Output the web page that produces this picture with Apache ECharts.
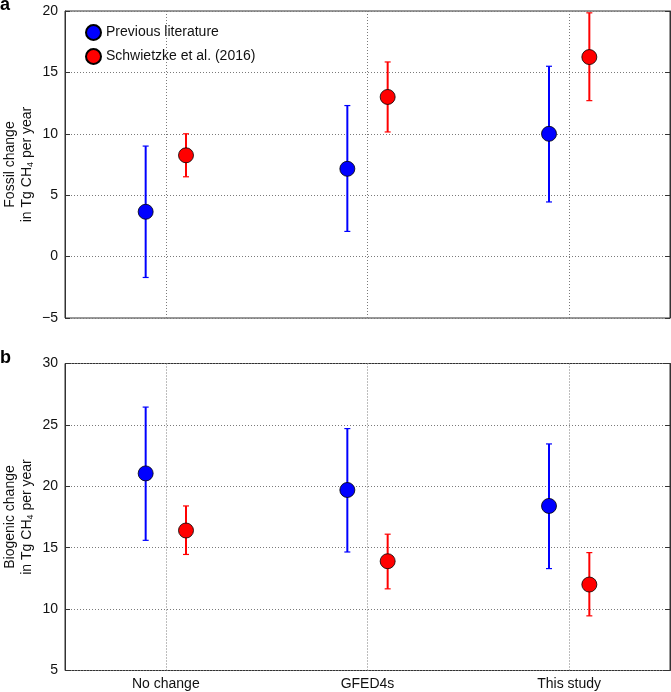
<!DOCTYPE html>
<html>
<head>
<meta charset="utf-8">
<script src="https://cdn.jsdelivr.net/npm/echarts@6/dist/echarts.min.js"></script>
<style>
html,body{margin:0;padding:0;background:#fff;}
#c{width:671px;height:692px;}
</style>
</head>
<body>
<div id="c"></div>
<script>
// ---- data ----
const categories = ['No change', 'GFED4s', 'This study'];
const seriesNames = ['Previous literature', 'Schwietzke et al. (2016)'];
const yTitles = ['Fossil change\nin Tg CH{sub|4} per year', 'Biogenic change\nin Tg CH{sub|4} per year'];
const panelLetters = ['a', 'b'];

const fossilPrevMean = [3.65, 7.15, 10.0];
const fossilPrevLow  = [-1.7, 2.05, 4.45];
const fossilPrevHigh = [9.0, 12.3, 15.5];
const fossilSchwMean = [8.25, 13.0, 16.25];
const fossilSchwLow  = [6.5, 10.15, 12.7];
const fossilSchwHigh = [10.0, 15.85, 19.85];

const bioPrevMean = [21.05, 19.7, 18.4];
const bioPrevLow  = [15.6, 14.65, 13.3];
const bioPrevHigh = [26.45, 24.7, 23.45];
const bioSchwMean = [16.4, 13.9, 12.0];
const bioSchwLow  = [14.45, 11.65, 9.45];
const bioSchwHigh = [18.4, 16.1, 14.6];

const fossilTicks = {min: -5, max: 20, interval: 5};
const bioTicks = {min: 5, max: 30, interval: 5};

// ---- style ----
const FONT = 'Helvetica, Arial, "Liberation Sans", sans-serif';
const BLUE = '#0000ff';
const RED = '#ff0000';
const GRIDC = '#7a7a7a';
const FRAME = '#333';
const OFF = 0.1;

const chart = echarts.init(document.getElementById('c'));

function errSeries(g, means, lows, highs, offset, color) {
  return {
    type: 'custom',
    xAxisIndex: 2 * g, yAxisIndex: 2 * g,
    silent: true, z: 2,
    data: means.map((m, i) => [i + 1 + offset, lows[i], highs[i]]),
    encode: {x: 0, y: [1, 2]},
    renderItem: function (params, api) {
      const x = api.value(0);
      const lo = api.coord([x, api.value(1)]);
      const hi = api.coord([x, api.value(2)]);
      const w = 3;
      return {
        type: 'group',
        children: [
          {type: 'line', shape: {x1: lo[0], y1: lo[1], x2: hi[0], y2: hi[1]}, style: {stroke: color, lineWidth: 2}},
          {type: 'line', shape: {x1: lo[0] - w, y1: lo[1], x2: lo[0] + w, y2: lo[1]}, style: {stroke: color, lineWidth: 1.2}},
          {type: 'line', shape: {x1: hi[0] - w, y1: hi[1], x2: hi[0] + w, y2: hi[1]}, style: {stroke: color, lineWidth: 1.2}}
        ]
      };
    }
  };
}

function pointSeries(g, name, means, offset, color) {
  return {
    type: 'scatter', name: name,
    xAxisIndex: 2 * g, yAxisIndex: 2 * g,
    symbol: 'circle', symbolSize: 15, z: 3,
    itemStyle: {color: color, borderColor: '#000', borderWidth: 0.8, opacity: 1},
    data: means.map((m, i) => [i + 1 + offset, m])
  };
}

function gridLineSeries(g) {
  return {
    type: 'scatter', xAxisIndex: 2 * g, yAxisIndex: 2 * g, data: [], z: 1, silent: true,
    markLine: {
      silent: true, symbol: ['none', 'none'], label: {show: false},
      lineStyle: {type: [1, 2], color: GRIDC, width: 1},
      data: categories.map((c, i) => ({xAxis: i + 1}))
    }
  };
}

const gridBoxes = [
  {left: 65, top: 11, width: 605, height: 307},
  {left: 65, top: 363.5, width: 605, height: 307}
];
const grids = gridBoxes.map(b => Object.assign({show: true, borderColor: FRAME, borderWidth: 1, containLabel: false, outerBoundsMode: 'none'}, b));

const xAxes = [];
const yAxes = [];
[fossilTicks, bioTicks].forEach((t, g) => {
  xAxes.push({type: 'value', gridIndex: g, min: 0.5, max: 3.5, show: false});
  xAxes.push({
    type: 'category', gridIndex: g, data: categories, boundaryGap: true, position: 'bottom',
    axisLine: {show: false}, axisTick: {show: false}, splitLine: {show: false},
    axisLabel: {show: g === 1, fontSize: 14, color: '#111', fontFamily: FONT, margin: 7}
  });
  yAxes.push({
    type: 'value', gridIndex: g, min: t.min, max: t.max, interval: t.interval, position: 'left',
    axisLine: {show: true, lineStyle: {color: FRAME, width: 1}},
    axisTick: {show: true, inside: true, length: 5, lineStyle: {color: FRAME}},
    axisLabel: {fontSize: 14, color: '#111', fontFamily: FONT, margin: 7,
      formatter: v => String(v).replace('-', '\u2212')},
    splitLine: {show: true, lineStyle: {type: [1, 2], color: GRIDC, width: 1}}
  });
  yAxes.push({
    type: 'value', gridIndex: g, min: t.min, max: t.max, interval: t.interval, position: 'right',
    axisLine: {show: true, lineStyle: {color: FRAME, width: 1}},
    axisTick: {show: true, inside: true, length: 5, lineStyle: {color: FRAME}},
    axisLabel: {show: false}, splitLine: {show: false}
  });
});

const graphics = [];
gridBoxes.forEach((b, g) => {
  graphics.push({
    type: 'text', x: 18.5, y: b.top + b.height / 2, rotation: Math.PI / 2, silent: true,
    style: {
      text: yTitles[g], font: '14px ' + FONT, fill: '#111', align: 'center', verticalAlign: 'middle', lineHeight: 17,
      rich: {sub: {fontSize: 9, fontFamily: FONT, fill: '#111', verticalAlign: 'bottom', lineHeight: 17}}
    }
  });
  graphics.push({
    type: 'text', left: 0, top: b.top - 14.5, silent: true,
    style: {text: panelLetters[g], font: 'bold 18px ' + FONT, fill: '#000'}
  });
});

const option = {
  backgroundColor: '#fff',
  animation: false,
  textStyle: {fontFamily: FONT},
  grid: grids,
  xAxis: xAxes,
  yAxis: yAxes,
  legend: {
    orient: 'vertical', left: 85, top: 24, padding: 0, itemWidth: 15, itemHeight: 15, itemGap: 7,
    textStyle: {fontSize: 14, color: '#111', fontFamily: FONT},
    data: seriesNames.map(n => ({name: n, icon: 'circle'}))
  },
  graphic: graphics,
  series: [
    pointSeries(0, seriesNames[0], fossilPrevMean, -OFF, BLUE),
    pointSeries(0, seriesNames[1], fossilSchwMean, OFF, RED),
    pointSeries(1, seriesNames[0], bioPrevMean, -OFF, BLUE),
    pointSeries(1, seriesNames[1], bioSchwMean, OFF, RED),
    gridLineSeries(0),
    gridLineSeries(1),
    errSeries(0, fossilPrevMean, fossilPrevLow, fossilPrevHigh, -OFF, BLUE),
    errSeries(0, fossilSchwMean, fossilSchwLow, fossilSchwHigh, OFF, RED),
    errSeries(1, bioPrevMean, bioPrevLow, bioPrevHigh, -OFF, BLUE),
    errSeries(1, bioSchwMean, bioSchwLow, bioSchwHigh, OFF, RED)
  ]
};
chart.setOption(option);
</script>
</body>
</html>
